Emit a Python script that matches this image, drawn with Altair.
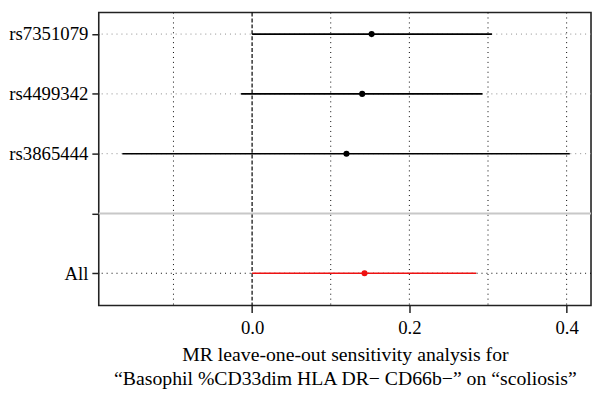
import altair as alt
import pandas as pd

labels = ["rs7351079", "rs4499342", "rs3865444", "All"]
beta = [0.152, 0.140, 0.120, 0.143]
ci_low = [0.000, -0.014, -0.165, 0.000]
ci_high = [0.305, 0.293, 0.404, 0.285]
groups = ["snp", "snp", "snp", "all"]

row_order = ["rs7351079", "rs4499342", "rs3865444", " ", "All"]
separator = [" "]
grid_x = [-0.1, 0.1, 0.2, 0.3, 0.4]
zero_x = [0.0]
tick_x = [0.0, 0.2, 0.4]
x_domain = [-0.195, 0.431]

title_lines = [
    "MR leave-one-out sensitivity analysis for",
    "\u201cBasophil %CD33dim HLA DR\u2212 CD66b\u2212\u201d on \u201cscoliosis\u201d",
]

FONT = "Liberation Serif"

df = pd.DataFrame(dict(label=labels, b=beta, lo=ci_low, hi=ci_high, group=groups))
sep_df = pd.DataFrame({"label": separator})
grid_df = pd.DataFrame({"x": grid_x})
zero_df = pd.DataFrame({"x": zero_x})

xscale = alt.Scale(domain=x_domain, nice=False, zero=False)
yscale = alt.Scale(type="point", domain=row_order, padding=0.45, align=0.4)

xaxis = alt.Axis(
    values=tick_x, format=".1f", grid=False, domain=False, tickSize=7,
    tickColor="#222", tickWidth=1.5, labelFont=FONT, labelFontSize=19,
    labelColor="black", labelPadding=6, title=title_lines, titleFont=FONT,
    titleFontSize=20, titleFontWeight="normal", titleColor="black",
    titleLineHeight=24, titlePadding=8,
)
yaxis = alt.Axis(
    grid=False, domain=False, tickSize=7, tickColor="#222", tickWidth=1.5,
    labelFont=FONT, labelFontSize=19, labelColor="black", labelPadding=4,
    title=None, labelBaseline="middle",
)

X = lambda f: alt.X(f, scale=xscale, axis=xaxis)
Y = lambda f: alt.Y(f, scale=yscale, axis=yaxis, sort=row_order)

row_color = alt.condition("datum.group == 'all'", alt.value("black"), alt.value("#8a8a8a"))
bar_color = alt.condition("datum.group == 'all'", alt.value("#ee1111"), alt.value("black"))

hlines = alt.Chart(df).mark_rule(strokeDash=[1, 4], strokeWidth=1).encode(
    y=Y("label:N"), color=row_color
)
vgrid = alt.Chart(grid_df).mark_rule(strokeDash=[1, 4], strokeWidth=1, color="black").encode(
    x=X("x:Q")
)
zero = alt.Chart(zero_df).mark_rule(strokeDash=[4, 2], strokeWidth=1.2, color="black").encode(
    x=X("x:Q")
)
sep = alt.Chart(sep_df).mark_rule(strokeWidth=2, color="#c8c8c8").encode(
    y=Y("label:N")
)
err = alt.Chart(df).mark_rule(strokeWidth=1.6).encode(
    x=X("lo:Q"), x2="hi:Q", y=Y("label:N"), color=bar_color
)
pts = alt.Chart(df).mark_circle(size=38, opacity=1).encode(
    x=X("b:Q"), y=Y("label:N"), color=bar_color
)

chart = alt.layer(hlines, vgrid, zero, sep, err, pts).properties(
    width=499, height=297,
    padding={"left": 0, "top": 1, "right": 0, "bottom": 0},
    background="white",
).configure_view(stroke="#222", strokeWidth=1.6)

chart.save("out.html", embed_options={"renderer": "svg", "actions": False})
